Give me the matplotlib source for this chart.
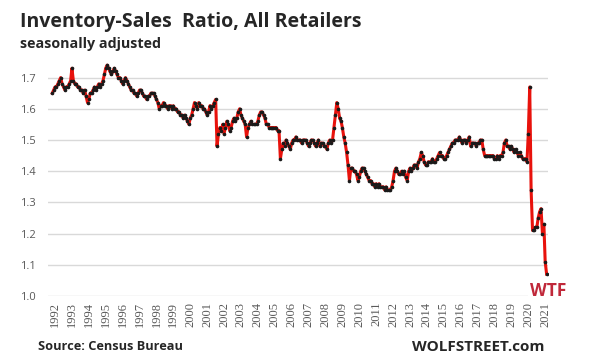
import numpy as np
import matplotlib
matplotlib.use('Agg')
import matplotlib.pyplot as plt
import pandas as pd

# monthly inventory/sales ratio, Jan 1992 - Apr 2021
y1992 = [1.65, 1.66, 1.67, 1.67, 1.68, 1.69, 1.70, 1.68, 1.67, 1.66, 1.67, 1.67]
y1993 = [1.68, 1.69, 1.73, 1.69, 1.68, 1.68, 1.67, 1.67, 1.66, 1.66, 1.65, 1.66]
y1994 = [1.64, 1.62, 1.63, 1.65, 1.65, 1.66, 1.67, 1.66, 1.67, 1.68, 1.67, 1.68]
y1995 = [1.69, 1.71, 1.73, 1.74, 1.73, 1.72, 1.71, 1.72, 1.73, 1.72, 1.71, 1.70]
y1996 = [1.70, 1.69, 1.68, 1.69, 1.70, 1.69, 1.68, 1.67, 1.66, 1.66, 1.65, 1.65]
y1997 = [1.64, 1.65, 1.66, 1.66, 1.65, 1.64, 1.64, 1.63, 1.64, 1.64, 1.65, 1.65]
y1998 = [1.65, 1.64, 1.63, 1.62, 1.60, 1.61, 1.61, 1.62, 1.61, 1.61, 1.60, 1.61]
y1999 = [1.61, 1.60, 1.61, 1.60, 1.60, 1.59, 1.59, 1.58, 1.58, 1.57, 1.58, 1.57]
y2000 = [1.56, 1.55, 1.57, 1.58, 1.60, 1.62, 1.61, 1.60, 1.62, 1.61, 1.61, 1.60]
y2001 = [1.60, 1.59, 1.58, 1.59, 1.61, 1.60, 1.61, 1.62, 1.63, 1.48, 1.52, 1.54]
y2002 = [1.53, 1.55, 1.52, 1.54, 1.56, 1.55, 1.53, 1.54, 1.56, 1.57, 1.56, 1.57]
y2003 = [1.59, 1.60, 1.58, 1.57, 1.56, 1.55, 1.51, 1.54, 1.55, 1.56, 1.55, 1.55]
y2004 = [1.55, 1.55, 1.56, 1.58, 1.59, 1.59, 1.58, 1.57, 1.55, 1.55, 1.54, 1.54]
y2005 = [1.54, 1.54, 1.54, 1.54, 1.53, 1.53, 1.44, 1.47, 1.49, 1.48, 1.50, 1.49]
y2006 = [1.48, 1.47, 1.49, 1.50, 1.50, 1.51, 1.50, 1.50, 1.50, 1.49, 1.50, 1.50]
y2007 = [1.50, 1.49, 1.48, 1.49, 1.50, 1.50, 1.49, 1.48, 1.49, 1.50, 1.48, 1.49]
y2008 = [1.49, 1.48, 1.48, 1.47, 1.49, 1.50, 1.49, 1.50, 1.54, 1.58, 1.62, 1.60]
y2009 = [1.57, 1.56, 1.54, 1.51, 1.49, 1.46, 1.42, 1.37, 1.41, 1.41, 1.40, 1.40]
y2010 = [1.39, 1.37, 1.38, 1.40, 1.41, 1.41, 1.40, 1.39, 1.38, 1.37, 1.37, 1.36]
y2011 = [1.36, 1.35, 1.36, 1.35, 1.36, 1.35, 1.35, 1.35, 1.34, 1.35, 1.34, 1.34]
y2012 = [1.34, 1.35, 1.37, 1.40, 1.41, 1.40, 1.39, 1.39, 1.40, 1.39, 1.40, 1.38]
y2013 = [1.37, 1.40, 1.41, 1.40, 1.41, 1.42, 1.42, 1.41, 1.43, 1.44, 1.46, 1.45]
y2014 = [1.43, 1.42, 1.42, 1.43, 1.43, 1.43, 1.44, 1.43, 1.43, 1.44, 1.45, 1.46]
y2015 = [1.45, 1.45, 1.44, 1.44, 1.45, 1.46, 1.47, 1.48, 1.49, 1.49, 1.50, 1.50]
y2016 = [1.50, 1.51, 1.50, 1.49, 1.50, 1.50, 1.49, 1.50, 1.51, 1.48, 1.49, 1.49]
y2017 = [1.49, 1.48, 1.49, 1.49, 1.50, 1.50, 1.47, 1.45, 1.45, 1.45, 1.45, 1.45]
y2018 = [1.45, 1.45, 1.44, 1.44, 1.45, 1.44, 1.45, 1.45, 1.46, 1.49, 1.50, 1.48]
y2019 = [1.48, 1.47, 1.48, 1.47, 1.46, 1.47, 1.46, 1.45, 1.46, 1.45, 1.44, 1.44]
y2020 = [1.44, 1.43, 1.52, 1.67, 1.34, 1.21, 1.21, 1.22, 1.22, 1.25, 1.27, 1.28]
y2021 = [1.20, 1.23, 1.11, 1.07]

ratio = (y1992 + y1993 + y1994 + y1995 + y1996 + y1997 + y1998 + y1999 +
         y2000 + y2001 + y2002 + y2003 + y2004 + y2005 + y2006 + y2007 +
         y2008 + y2009 + y2010 + y2011 + y2012 + y2013 + y2014 + y2015 +
         y2016 + y2017 + y2018 + y2019 + y2020 + y2021)
dates = pd.date_range('1992-01-01', periods=len(ratio), freq='MS')
years = list(range(1992, 2022))

plt.rcParams['font.family'] = ['Open Sans', 'DejaVu Sans']

fig = plt.figure(figsize=(6.03, 3.63), dpi=100)
ax = fig.add_axes([48/603, 1-296/363, 500/603, (296-62)/363])

ax.plot(dates, ratio, color='#e8120c', lw=2.2, zorder=3)
ax.plot(dates, ratio, ls='none', marker='o', ms=1.6, color='#1a1a1a', zorder=4)

ax.set_ylim(1.0, 1.75)
ax.set_yticks([1.0, 1.1, 1.2, 1.3, 1.4, 1.5, 1.6, 1.7])
ax.set_yticklabels(['1.0', '1.1', '1.2', '1.3', '1.4', '1.5', '1.6', '1.7'])
ax.set_xlim(pd.Timestamp('1991-10-01'), pd.Timestamp('2021-05-01'))
ax.set_xticks([pd.Timestamp(f'{y}-03-01') for y in years])
ax.set_xticklabels([str(y) for y in years], rotation=90,
                   family=['Liberation Serif', 'DejaVu Serif'], fontsize=9)

ax.grid(axis='y', color='#d9d9d9', lw=1)
ax.set_axisbelow(True)
for s in ax.spines.values():
    s.set_visible(False)
ax.tick_params(length=0, colors='#595959')
ax.tick_params(axis='y', pad=9, labelsize=8)
ax.tick_params(axis='x', pad=4)

fig.text(20/603, 1-22/363, 'Inventory-Sales  Ratio, All Retailers', fontsize=14,
         fontweight='bold', color='#262626', va='center')
fig.text(20/603, 1-44/363, 'seasonally adjusted', fontsize=10.3,
         fontweight='bold', color='#262626', va='center')
fig.text(548/603, 1-291/363, 'WTF', fontsize=12.5, fontweight='bold',
         color='#c0283a', va='center', ha='center',
         bbox=dict(facecolor='white', edgecolor='none', pad=1))
fig.text(38/603, 1-347/363, 'Source: Census Bureau', fontsize=9.2,
         fontweight='bold', color='#262626', va='center')
fig.text(545/603, 1-347/363, 'WOLFSTREET.com', fontsize=11,
         fontweight='bold', color='#262626', va='center', ha='right')

fig.savefig('out.png', dpi=100)
